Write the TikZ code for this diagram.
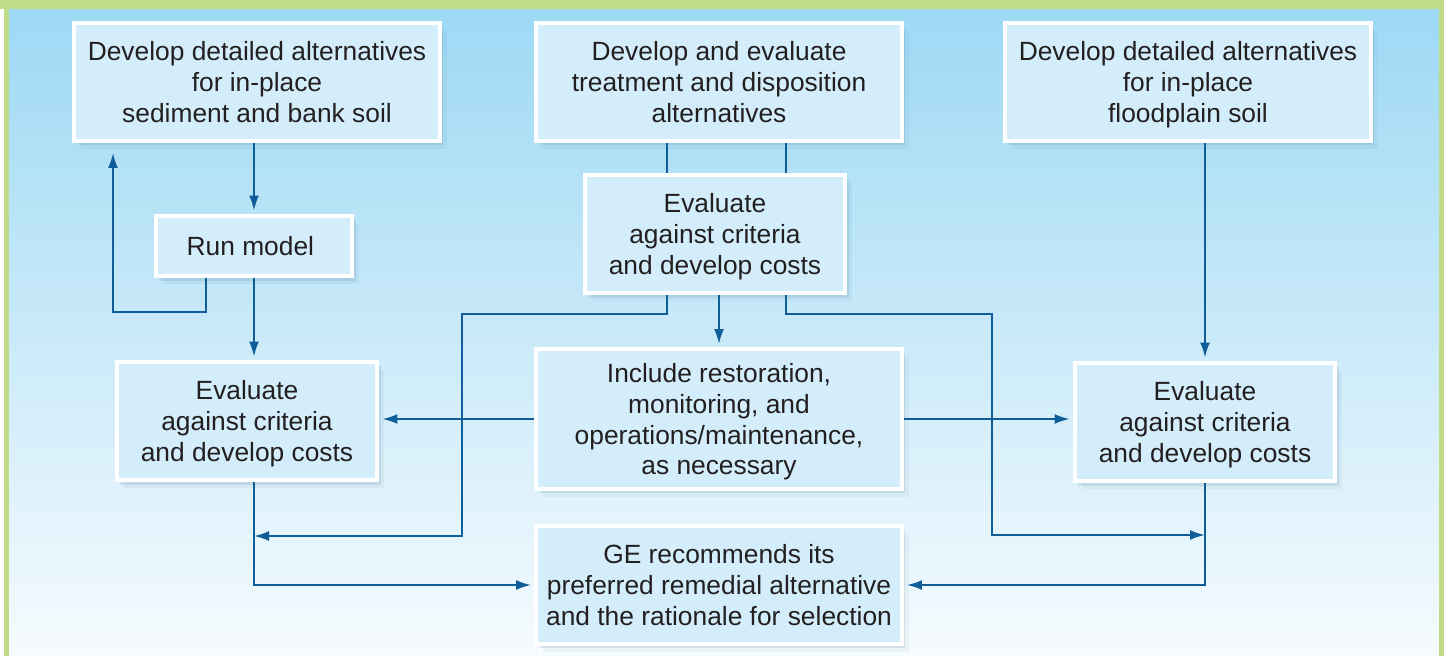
\documentclass[tikz,border=0pt]{standalone}
\usepackage{xcolor}
\usepackage{fontspec}
\setmainfont{Liberation Sans}
\usepackage{tikz}
\usetikzlibrary{arrows.meta, positioning, shadows}

\begin{document}
\begin{tikzpicture}[
    x=0.02cm, y=-0.02cm,
    box/.style={
        rectangle,
        draw=white,
        line width=0.08cm,
        fill=boxblue,
        align=center,
        text=inkgray,
        font=\fontsize{15}{17.6}\selectfont,
        text depth=0pt,
        minimum width=7.32cm,
        minimum height=2.36cm,
        inner sep=2pt,
        drop shadow={shadow xshift=0.14cm, shadow yshift=-0.16cm,
            opacity=0.05, fill=shadowblue},
        drop shadow={shadow xshift=0.07cm, shadow yshift=-0.09cm,
            opacity=0.10, fill=shadowblue}
    },
    evalbox/.style={box, minimum width=5.22cm, minimum height=2.38cm},
    arrow/.style={-{Latex[length=0.3cm, width=0.2cm]}, draw=lineblue,
        line width=1.1pt, shorten >=0.06cm},
    link/.style={draw=lineblue, line width=1.1pt}
]

% Colors
\definecolor{boxblue}{HTML}{D3EEFA}
\definecolor{inkgray}{HTML}{231F20}
\definecolor{lineblue}{HTML}{0F5E9A}
\definecolor{shadowblue}{HTML}{1B4F72}
\definecolor{framegreen}{HTML}{C0DC88}
\definecolor{skytop}{HTML}{9DD9F4}
\definecolor{skymid}{HTML}{C6E8F8}
\definecolor{skybottom}{HTML}{F6FBFE}

% Background
\useasboundingbox (0,0) rectangle (1447,656);
\fill[white] (0,0) rectangle (1447,656);
\shade[top color=skytop, middle color=skymid, bottom color=skybottom]
    (9,9) rectangle (1439,656);
\fill[framegreen] (0,0) rectangle (1444,9);
\fill[framegreen] (4,9) rectangle (9,656);
\fill[framegreen] (1439,9) rectangle (1444,656);

% Row 1
\node[box] (sed) at (257,82) {
Develop detailed alternatives\\
for in-place\\
sediment and bank soil
};

\node[box] (treat) at (719,82) {
Develop and evaluate\\
treatment and disposition\\
alternatives
};

\node[box] (flood) at (1188,82) {
Develop detailed alternatives\\
for in-place\\
floodplain soil
};

% Row 2
\node[box, minimum width=3.94cm, minimum height=1.22cm] (run) at (254,246) {
Run model
};

\node[evalbox] (evalmid) at (715,234) {
Evaluate\\
against criteria\\
and develop costs
};

% Row 3
\node[evalbox] (evalleft) at (247,421) {
Evaluate\\
against criteria\\
and develop costs
};

\node[box, minimum height=2.80cm] (incl) at (719,419) {
Include restoration,\\
monitoring, and\\
operations/maintenance,\\
as necessary
};

\node[evalbox] (evalright) at (1205,422) {
Evaluate\\
against criteria\\
and develop costs
};

% Row 4
\node[box] (ge) at (719,585) {
GE recommends its\\
preferred remedial alternative\\
and the rationale for selection
};

% Turning points
\coordinate (loop) at (113,312);
\coordinate (colleft) at (667,0);
\coordinate (colright) at (786,0);
\coordinate (midleft) at (462,314);
\coordinate (lowleft) at (462,536);
\coordinate (midright) at (992,314);
\coordinate (lowright) at (992,535);

% Arrows
\draw[arrow] (sed.south -| run) -- (run);

\draw[arrow, shorten >=0.2cm] ([xshift=-0.96cm]run.south) |- (loop) -- (loop |- sed.south);

\draw[arrow] (run) -- (run |- evalleft.north);

\draw[link] (treat.south -| colleft) -- (evalmid.north -| colleft);

\draw[link] (treat.south -| colright) -- (evalmid.north -| colright);

\draw[arrow] (evalmid.south -| incl) -- (incl);

\draw[arrow, shorten >=0pt] (evalmid.south -| colleft) |- (midleft) -- (lowleft) -- (lowleft -| run);

\draw[arrow, shorten >=0pt] (evalmid.south -| colright) |- (midright) -- (lowright) -- (lowright -| evalright);

\draw[arrow] (incl.west) -- (incl.west -| evalleft.east);

\draw[arrow] (incl.east) -- (incl.east -| evalright.west);

\draw[arrow] (flood.south -| evalright) -- (evalright);

\draw[arrow] (evalleft.south -| run) |- (ge.west);

\draw[arrow] (evalright.south) |- (ge.east);

\end{tikzpicture}
\end{document}
